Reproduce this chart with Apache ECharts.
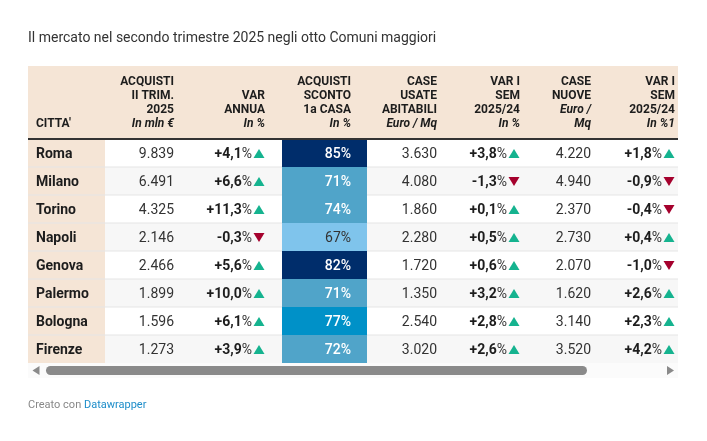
<!DOCTYPE html>
<html>
<head>
<meta charset="utf-8">
<style>html,body{margin:0;padding:0;background:#fff}#one{width:707px;height:441px}</style>
<script src="https://cdn.jsdelivr.net/npm/echarts@6/dist/echarts.min.js"></script>
</head>
<body>
<div id="one"></div>
<script>
// dati
var citta = ['Roma', 'Milano', 'Torino', 'Napoli', 'Genova', 'Palermo', 'Bologna', 'Firenze'];
var acquisti = [9839, 6491, 4325, 2146, 2466, 1899, 1596, 1273];
var varAnnua = [4.1, 6.6, 11.3, -0.3, 5.6, 10.0, 6.1, 3.9];
var sconto = [85, 71, 74, 67, 82, 71, 77, 72];
var caseUsate = [3630, 4080, 1860, 2280, 1720, 1350, 2540, 3020];
var varUsate = [3.8, -1.3, 0.1, 0.5, 0.6, 3.2, 2.8, 2.6];
var caseNuove = [4220, 4940, 2370, 2730, 2070, 1620, 3140, 3520];
var varNuove = [1.8, -0.9, -0.4, 0.4, -1.0, 2.6, 2.3, 4.2];

var intestazioni = [
    ['CITTA\''],
    ['ACQUISTI', 'II TRIM.', '2025', 'In mln €'],
    ['VAR', 'ANNUA', 'In %'],
    ['ACQUISTI', 'SCONTO', '1a CASA', 'In %'],
    ['CASE', 'USATE', 'ABITABILI', 'Euro / Mq'],
    ['VAR I', 'SEM', '2025/24', 'In %'],
    ['CASE', 'NUOVE', 'Euro /', 'Mq'],
    ['VAR I', 'SEM', '2025/24', 'In %1']
];
var righeCorsivo = [0, 1, 1, 1, 1, 1, 2, 1];

// layout in pixel: x axis runs 0..707 so these are direct
var bordoDestro = [105, 174, 265, 351, 437, 520, 591, 675];
var FONT = 'Roboto, sans-serif';
var TESTO_DY = 1; // il testo nel canvas sta un pixel piu' in alto

var mainContainer = document.getElementById('one');
var chart = echarts.init(mainContainer);

function migliaia(v) {
    return String(v).replace(/\B(?=(\d{3})+$)/g, '.');
}
function percento(v) {
    var s = Math.abs(v).toFixed(1).replace('.', ',');
    return (v < 0 ? '-' : '+') + s;
}
function coloreSconto(v) {
    if (v >= 80) return '#002d6b';
    if (v >= 75) return '#0091c8';
    if (v >= 70) return '#50a4c9';
    return '#7fc4ec';
}

// sfondo righe
function renderRiga(params, api) {
    var c = api.coord([0, api.value(0)]);
    var h = api.size([0, 1])[1];
    var top = c[1] - h / 2;
    var children = [
        {type: 'rect', shape: {x: 28, y: top, width: 650, height: h},
            style: {fill: params.dataIndex % 2 ? '#f7f7f7' : '#fff'}},
        {type: 'rect', shape: {x: 28, y: top, width: 77, height: h}, style: {fill: '#f5e5d6'}}
    ];
    if (params.dataIndex > 0) {
        children.push({type: 'rect', shape: {x: 28, y: top - 0.5, width: 650, height: 1}, style: {fill: '#e6e6e6'}});
    }
    children.push({type: 'text', style: {text: citta[params.dataIndex], x: 36, y: c[1] + TESTO_DY, align: 'left', verticalAlign: 'middle',
        fill: '#1d1d1d', fontFamily: FONT, fontSize: 14, fontWeight: 'bold'}});
    return {type: 'group', children: children};
}

function serieNumero(col, valori) {
    return {
        type: 'custom', data: valori.map(function (v, i) { return [i, v]; }), silent: true,
        renderItem: function (params, api) {
            var c = api.coord([bordoDestro[col], api.value(0)]);
            return {type: 'text', style: {text: migliaia(api.value(1)), x: c[0], y: c[1] + TESTO_DY, align: 'right', verticalAlign: 'middle',
                fill: '#333', fontFamily: FONT, fontSize: 14}};
        }
    };
}

function serieVar(col, valori) {
    return {
        type: 'custom', data: valori.map(function (v, i) { return [i, v]; }), silent: true,
        renderItem: function (params, api) {
            var c = api.coord([bordoDestro[col], api.value(0)]);
            var v = api.value(1);
            var x = c[0], y = c[1] + 0.5;
            var punti = v >= 0
                ? [[x - 11.5, y + 4.5], [x - 0.5, y + 4.5], [x - 6, y - 4.5]]
                : [[x - 11.5, y - 4.5], [x - 0.5, y - 4.5], [x - 6, y + 4.5]];
            return {type: 'group', children: [
                {type: 'text', style: {text: '{b|' + percento(v) + '}{p|%}', x: x - 13, y: c[1] + TESTO_DY, align: 'right', verticalAlign: 'middle',
                    rich: {
                        b: {fontFamily: FONT, fontSize: 14, fontWeight: 'bold', fill: '#1d1d1d'},
                        p: {fontFamily: FONT, fontSize: 14, fill: '#333'}
                    }}},
                {type: 'polygon', shape: {points: punti}, style: {fill: v >= 0 ? '#15b38f' : '#a5012d'}}
            ]};
        }
    };
}

function serieSconto(col, valori) {
    return {
        type: 'custom', data: valori.map(function (v, i) { return [i, v]; }), silent: true,
        renderItem: function (params, api) {
            var c = api.coord([bordoDestro[col], api.value(0)]);
            var h = api.size([0, 1])[1];
            var v = api.value(1);
            return {type: 'group', children: [
                {type: 'rect', shape: {x: 282, y: c[1] - h / 2, width: 85, height: h}, style: {fill: coloreSconto(v)}},
                {type: 'text', style: {text: v + '%', x: c[0], y: c[1] + TESTO_DY, align: 'right', verticalAlign: 'middle',
                    fill: v < 70 ? '#333' : '#fff', fontFamily: FONT, fontSize: 14, fontWeight: v < 70 ? 'normal' : 500}}
            ]};
        }
    };
}

// intestazione e barra di scorrimento
var graphic = [
    {type: 'rect', z: 1, shape: {x: 28, y: 66, width: 650, height: 72}, style: {fill: '#f5e5d6'}},
    {type: 'rect', z: 5, shape: {x: 28, y: 138, width: 650, height: 2}, style: {fill: '#333'}},
    {type: 'rect', z: 1, shape: {x: 28, y: 363, width: 650, height: 15}, style: {fill: '#fbfbfb'}},
    {type: 'rect', z: 2, shape: {x: 46, y: 366, width: 541, height: 9, r: 4.5}, style: {fill: '#8a8a8a'}},
    {type: 'polygon', z: 2, shape: {points: [[39.5, 366], [39.5, 375], [32.5, 370.5]]}, style: {fill: '#8a8a8a'}},
    {type: 'polygon', z: 2, shape: {points: [[667, 366], [667, 375], [674, 370.5]]}, style: {fill: '#8a8a8a'}},
    {type: 'text', z: 2, style: {text: '{a|Creato con }{b|Datawrapper}', x: 28, y: 405, verticalAlign: 'middle',
        rich: {
            a: {fontFamily: FONT, fontSize: 11, fill: '#888'},
            b: {fontFamily: FONT, fontSize: 11, fill: '#1d8dc9'}
        }}}
];
intestazioni.forEach(function (righe, col) {
    var ultima = righe.length - 1;
    righe.forEach(function (testo, k) {
        var corsivo = k > ultima - righeCorsivo[col];
        graphic.push({type: 'text', z: 3, style: {
            text: testo,
            x: col === 0 ? 36 : bordoDestro[col],
            y: 123.5 - (ultima - k) * 14,
            align: col === 0 ? 'left' : 'right',
            verticalAlign: 'middle',
            fill: '#1d1d1d',
            fontFamily: FONT,
            fontSize: 12,
            fontWeight: 'bold',
            fontStyle: corsivo ? 'italic' : 'normal'
        }});
    });
});

var option = {
    animation: false,
    backgroundColor: '#fff',
    textStyle: {fontFamily: FONT},
    title: {
        text: 'Il mercato nel secondo trimestre 2025 negli otto Comuni maggiori',
        left: 28, top: 31, padding: 0,
        textStyle: {fontFamily: FONT, fontSize: 14, fontWeight: 'normal', color: '#333'}
    },
    grid: {left: 0, right: 0, top: 139, height: 224},
    xAxis: {type: 'value', min: 0, max: 707, show: false},
    yAxis: {type: 'category', data: citta, inverse: true, show: false},
    graphic: graphic,
    series: [
        {
            type: 'custom', silent: true, z: 1,
            data: citta.map(function (c, i) { return [i]; }),
            encode: {y: 0},
            renderItem: renderRiga
        },
        serieNumero(1, acquisti),
        serieVar(2, varAnnua),
        serieSconto(3, sconto),
        serieNumero(4, caseUsate),
        serieVar(5, varUsate),
        serieNumero(6, caseNuove),
        serieVar(7, varNuove)
    ].map(function (s) {
        s.encode = {y: 0};
        s.z = 2;
        return s;
    })
};
chart.setOption(option);
</script>
</body>
</html>
